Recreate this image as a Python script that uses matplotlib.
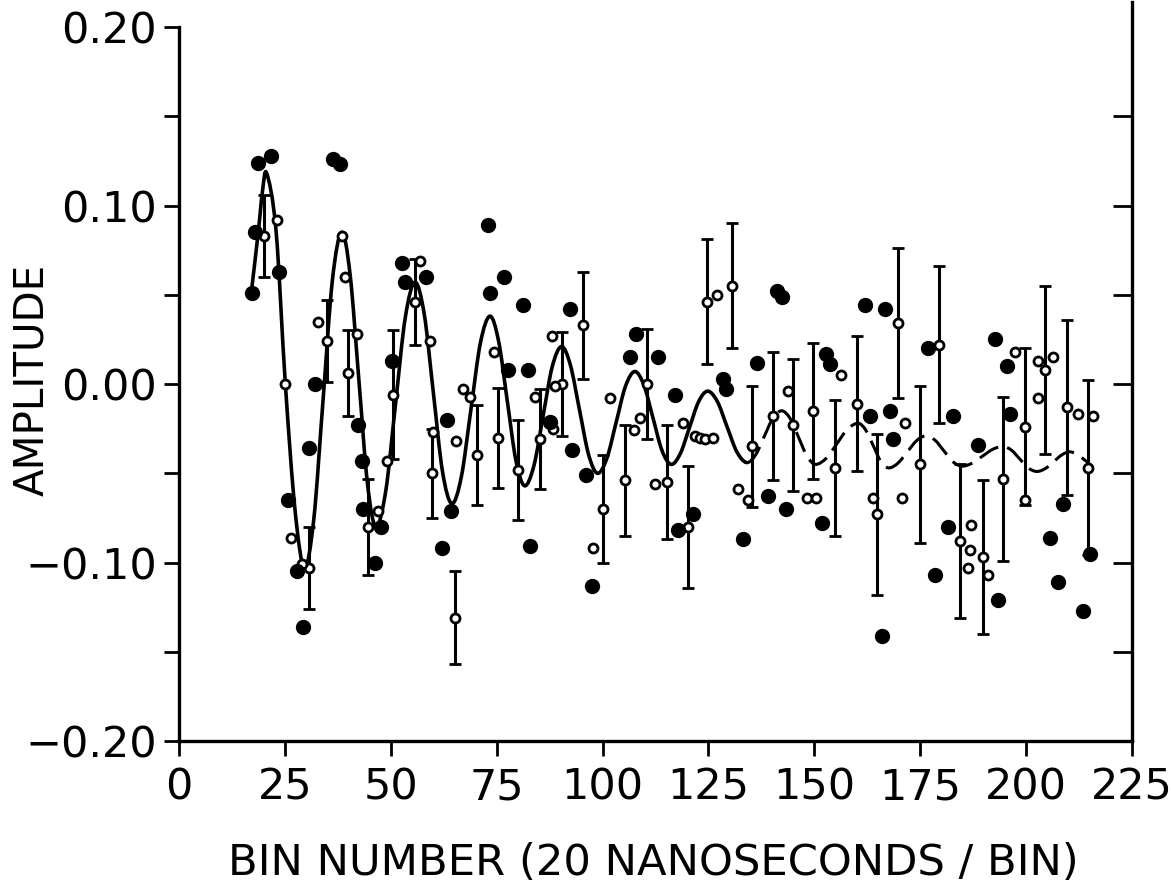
import numpy as np
import matplotlib
matplotlib.use("Agg")
import matplotlib.pyplot as plt
from matplotlib.path import Path
from matplotlib.patches import PathPatch

# fitted curve (bin, amplitude)
curve_x = [17.0, 18.7, 19.7, 20.7, 22.9, 25.1, 27.4, 29.6, 31.8, 34.0, 36.2, 38.4,
           40.4, 42.45, 44.5, 46.5, 48.8, 51.1, 53.4, 55.7, 57.9, 60.05, 62.2, 64.4,
           66.65, 68.9, 71.15, 73.4, 75.45, 77.5, 79.55, 81.6, 83.8, 85.95, 88.1, 90.3,
           92.4, 94.55, 96.7, 98.8, 101.0, 103.2, 105.4, 107.6, 109.75, 111.9, 114.05,
           116.2, 118.35, 120.5, 122.65, 124.8, 127.1, 129.4, 131.7, 134.0,
           136.1, 138.15, 140.2, 142.3, 144.3, 146.3, 148.3, 150.3, 152.8, 155.3, 157.8,
           160.3, 162.1, 163.9, 165.7, 167.5, 169.7, 171.95, 174.2, 176.4, 178.5, 180.6,
           182.7, 184.8, 187.2, 189.65, 192.1, 194.5, 196.5, 198.5, 200.5, 202.5, 204.5,
           206.5, 208.5, 210.5, 213.0, 215.5]
curve_y = [0.050, 0.085, 0.108, 0.118, 0.086, 0.000, -0.071, -0.103, -0.076, -0.009, 0.058, 0.085,
           0.061, 0.0025, -0.056, -0.080, -0.060, -0.0115, 0.037, 0.057, 0.039, -0.005, -0.049, -0.067,
           -0.052, -0.0145, 0.023, 0.038, 0.024, -0.0095, -0.043, -0.057, -0.0456, -0.018, 0.0096, 0.021,
           0.0106, -0.0145, -0.0396, -0.050, -0.0417, -0.0215, -0.0013, 0.007, -0.0006, -0.019, -0.0374,
           -0.045, -0.039, -0.0245, -0.010, -0.004, -0.0098, -0.024, -0.038, -0.044,
           -0.0398, -0.0295, -0.0192, -0.015, -0.0194, -0.030, -0.0406, -0.045, -0.0416, -0.0335, -0.0254,
           -0.022, -0.0257, -0.0345, -0.0434, -0.047, -0.0444, -0.038, -0.0316, -0.029, -0.0315, -0.0375,
           -0.0435, -0.046, -0.0444, -0.0405, -0.0366, -0.035, -0.037, -0.042, -0.047, -0.049, -0.0474,
           -0.0435, -0.0396, -0.038, -0.041, -0.046]
dash_from = 134.0

# filled dots
dot_x = [17.2, 18.7, 21.6, 36.4, 38.0, 17.9, 23.7, 25.8, 27.8, 29.3, 30.7, 32.1, 42.3, 43.1,
         43.5, 46.3, 47.8, 50.2, 52.6, 58.3, 53.4, 62.0, 63.3, 64.1, 72.9, 73.4, 76.7, 77.7,
         81.3, 82.5, 82.9, 87.6, 92.3, 92.7, 96.2, 97.4, 106.5, 108.0, 113.2, 117.1, 117.9,
         121.4, 128.5, 129.1, 133.2, 136.4, 139.1, 141.1, 142.3, 143.3, 151.7, 152.7, 153.7,
         162.0, 163.1, 165.9, 166.7, 167.8, 168.6, 176.9, 178.5, 181.6, 182.8, 188.7, 192.6,
         193.4, 195.4, 196.2, 205.6, 207.6, 208.8, 213.5, 215.0]
dot_y = [0.051, 0.124, 0.128, 0.126, 0.123, 0.085, 0.063, -0.065, -0.105, -0.136, -0.036, 0.000,
         -0.023, -0.043, -0.070, -0.100, -0.080, 0.013, 0.068, 0.060, 0.057, -0.092, -0.020, -0.071,
         0.089, 0.051, 0.060, 0.008, 0.044, 0.008, -0.091, -0.021, 0.042, -0.037, -0.051, -0.113,
         0.015, 0.028, 0.015, -0.006, -0.082, -0.073, 0.003, -0.003, -0.087, 0.012, -0.063, 0.052,
         0.049, -0.070, -0.078, 0.017, 0.011, 0.044, -0.018, -0.141, 0.042, -0.015, -0.031, 0.020,
         -0.107, -0.080, -0.018, -0.034, 0.025, -0.121, 0.010, -0.017, -0.086, -0.111, -0.067,
         -0.127, -0.095]

# open circles without error bars
ring_x = [23.1, 25.0, 26.4, 29.0, 32.9, 38.4, 39.2, 41.9, 47.0, 49.0, 57.0, 59.3, 60.0, 65.4,
          67.1, 68.7, 74.4, 84.0, 88.0, 88.8, 88.2, 97.8, 101.7, 108.8, 107.3, 112.4, 119.1,
          121.8, 122.9, 124.2, 126.1, 126.9, 132.0, 134.4, 143.8, 148.2, 150.5, 156.4, 163.9,
          170.6, 171.4, 186.7, 187.1, 191.0, 186.3, 197.4, 199.7, 202.9, 202.9, 206.4, 212.3,
          215.8]
ring_y = [0.092, 0.000, -0.086, -0.101, 0.035, 0.083, 0.060, 0.028, -0.071, -0.043, 0.069, 0.024,
          -0.027, -0.032, -0.003, -0.007, 0.018, -0.007, 0.027, -0.001, -0.025, -0.092, -0.008,
          -0.019, -0.026, -0.056, -0.022, -0.029, -0.030, -0.031, -0.030, 0.050, -0.059, -0.065,
          -0.004, -0.064, -0.064, 0.005, -0.064, -0.064, -0.022, -0.093, -0.079, -0.107, -0.103,
          0.018, -0.065, 0.013, -0.008, 0.015, -0.017, -0.018]

# open circles with error bars
err_x = [20.0, 30.8, 34.9, 40.0, 44.7, 50.4, 55.7, 59.7, 65.2, 70.4, 75.4, 80.1, 85.2, 90.3,
         95.4, 100.0, 105.3, 110.4, 115.1, 120.2, 124.6, 130.5, 135.2, 140.3, 144.9, 149.7,
         154.9, 160.0, 164.7, 169.8, 174.9, 179.4, 184.4, 189.9, 194.6, 199.7, 204.4, 209.6,
         214.5]
err_y = [0.083, -0.103, 0.024, 0.006, -0.080, -0.006, 0.046, -0.050, -0.131, -0.040, -0.030,
         -0.048, -0.031, 0.000, 0.033, -0.070, -0.054, 0.000, -0.055, -0.080, 0.046, 0.055,
         -0.035, -0.018, -0.023, -0.015, -0.047, -0.011, -0.073, 0.034, -0.045, 0.022, -0.088,
         -0.097, -0.053, -0.024, 0.008, -0.013, -0.047]
err_e = [0.023, 0.023, 0.023, 0.024, 0.027, 0.036, 0.024, 0.025, 0.026, 0.028, 0.028, 0.028,
         0.028, 0.029, 0.030, 0.030, 0.031, 0.031, 0.032, 0.034, 0.035, 0.035, 0.034, 0.036,
         0.037, 0.038, 0.038, 0.038, 0.045, 0.042, 0.044, 0.044, 0.043, 0.043, 0.046, 0.044,
         0.047, 0.049, 0.049]

x_ticks = [0, 25, 50, 75, 100, 125, 150, 175, 200, 225]
y_ticks = [-0.20, -0.10, 0.00, 0.10, 0.20]


def smooth_path(xs, ys, start, stop):
    """Catmull-Rom through the read points, drawn as cubic Bezier pieces."""
    p = np.column_stack([xs, ys])
    n = len(p)
    verts = [p[start]]
    codes = [Path.MOVETO]
    for i in range(start, stop):
        p0 = p[max(i - 1, 0)]
        p1, p2 = p[i], p[i + 1]
        p3 = p[min(i + 2, n - 1)]
        verts += [p1 + (p2 - p0) / 6, p2 - (p3 - p1) / 6, p2]
        codes += [Path.CURVE4] * 3
    return Path(verts, codes)


fig = plt.figure(figsize=(11.71, 8.88), dpi=100)
ax = fig.add_axes([0.1529, 0.1655, 0.8138, 0.8041])

split = curve_x.index(dash_from)
ax.add_patch(PathPatch(smooth_path(curve_x, curve_y, 0, split), fill=False,
                       lw=2.6, ec="black", capstyle="round"))
ax.add_patch(PathPatch(smooth_path(curve_x, curve_y, split, len(curve_x) - 1), fill=False,
                       lw=2.2, ec="black", linestyle=(0, (7, 3))))

ax.errorbar(err_x, err_y, yerr=err_e, fmt="o", ms=6.5, mfc="white", mec="black", mew=2,
            ecolor="black", elinewidth=2.2, capsize=4.5, capthick=2.2, zorder=3)
ax.plot(ring_x, ring_y, "o", ms=6.5, mfc="white", mec="black", mew=2, zorder=4)
ax.plot(dot_x, dot_y, "o", ms=10, color="black", zorder=4)

ax.set_xlim(0, 225)
ax.set_ylim(-0.20, 0.20)
ax.set_xticks(x_ticks)
ax.set_yticks(y_ticks)
ax.set_yticks(np.arange(-0.15, 0.2, 0.1), minor=True)
ax.set_yticklabels([f"{v:.2f}".replace("-", "\u2212") for v in y_ticks])
ax.tick_params(axis="both", which="both", direction="out", width=2, length=11,
               labelsize=31, pad=5)
ax.tick_params(axis="x", pad=7)

for side in ["top", "right"]:
    ax.spines[side].set_visible(False)
for side in ["left", "bottom"]:
    ax.spines[side].set_linewidth(2.4)
ax.plot([1, 1], [0, 1.035], transform=ax.transAxes, color="black", lw=2.4, clip_on=False)

# inward ticks on the right edge
ax2 = ax.twinx()
ax2.set_ylim(-0.20, 0.20)
ax2.set_yticks(np.arange(-0.15, 0.2, 0.05))
ax2.tick_params(axis="y", direction="in", length=14, width=2, labelright=False)
for side in ["top", "right", "left", "bottom"]:
    ax2.spines[side].set_visible(False)

xl = ax.set_xlabel("BIN NUMBER (20 NANOSECONDS / BIN)", fontsize=30)
yl = ax.set_ylabel("AMPLITUDE", fontsize=30)
ax.xaxis.set_label_coords(0.498, -0.141)
ax.yaxis.set_label_coords(-0.133, 0.506)

# the lettering in the scan is narrow: size the labels to its measured length
fig.canvas.draw()
xl.set_fontsize(30 * 852 / xl.get_window_extent().width)
yl.set_fontsize(30 * 232 / yl.get_window_extent().height)

fig.savefig("out.png", dpi=100)
